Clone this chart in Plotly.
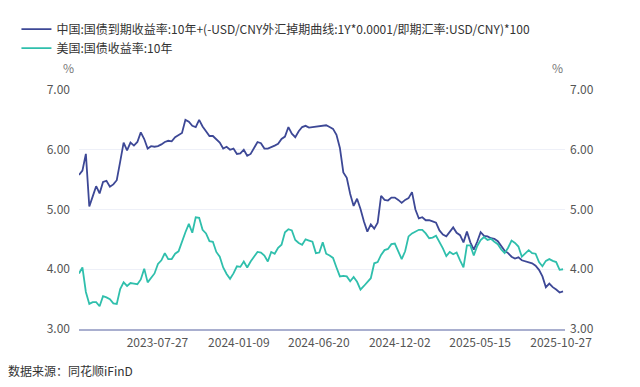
import pandas as pd
import plotly.graph_objects as go

# Weekly sampling dates (Fridays) covering the chart span
dates = pd.date_range("2023-02-17", periods=142, freq="7D")

china_adj = [
    5.58, 5.65, 5.93, 5.05, 5.22, 5.39, 5.27, 5.46, 5.48, 5.38,
    5.42, 5.49, 5.80, 6.12, 5.99, 6.12, 6.07, 6.13, 6.29, 6.18,
    6.02, 6.06, 6.05, 6.06, 6.09, 6.13, 6.15, 6.14, 6.21, 6.24,
    6.28, 6.50, 6.47, 6.40, 6.38, 6.50, 6.39, 6.31, 6.23, 6.23,
    6.17, 6.12, 6.02, 6.05, 6.00, 6.02, 5.93, 5.94, 6.00, 5.90,
    5.93, 6.02, 6.13, 6.11, 6.02, 6.02, 6.04, 6.07, 6.10, 6.18,
    6.22, 6.38, 6.27, 6.21, 6.31, 6.38, 6.40, 6.37, 6.38, 6.39,
    6.39, 6.40, 6.41, 6.38, 6.35, 6.25, 6.03, 5.62, 5.53, 5.26,
    5.06, 5.18, 5.01, 4.80, 4.63, 4.75, 4.68, 4.78, 5.23, 5.16,
    5.15, 5.20, 5.20, 5.16, 5.11, 5.16, 5.19, 5.29, 5.00, 4.85,
    4.87, 4.82, 4.82, 4.80, 4.78, 4.65, 4.58, 4.55, 4.62, 4.70,
    4.61, 4.57, 4.45, 4.63, 4.45, 4.33, 4.46, 4.62, 4.56, 4.55,
    4.52, 4.51, 4.47, 4.38, 4.31, 4.27, 4.21, 4.18, 4.20, 4.15,
    4.13, 4.11, 4.10, 4.06, 3.99, 3.88, 3.70, 3.76, 3.70, 3.66,
    3.61, 3.63,
]

us_10y = [
    3.93, 4.03, 3.62, 3.42, 3.45, 3.45, 3.38, 3.55, 3.53, 3.50,
    3.43, 3.42, 3.67, 3.78, 3.72, 3.77, 3.76, 3.75, 3.83, 4.01,
    3.78, 3.86, 3.93, 4.09, 4.15, 4.27, 4.17, 4.17, 4.26, 4.30,
    4.48, 4.62, 4.76, 4.61, 4.87, 4.86, 4.66, 4.60, 4.47, 4.46,
    4.29, 4.21, 4.03, 3.92, 3.84, 3.93, 4.05, 4.04, 4.13, 4.03,
    4.13, 4.22, 4.29, 4.28, 4.23, 4.13, 4.29, 4.26, 4.36, 4.41,
    4.62, 4.67, 4.65, 4.49, 4.44, 4.41, 4.50, 4.48, 4.46, 4.27,
    4.28, 4.45, 4.26, 4.23, 4.19, 4.03, 3.88, 3.89, 3.88, 3.80,
    3.87, 3.79, 3.66, 3.72, 3.78, 3.85, 4.10, 4.12, 4.24, 4.32,
    4.34, 4.42, 4.43, 4.29, 4.17, 4.30, 4.55, 4.60, 4.63, 4.66,
    4.66, 4.60, 4.52, 4.53, 4.56, 4.46, 4.35, 4.22, 4.29, 4.25,
    4.28, 4.15, 4.03, 4.40, 4.40, 4.23, 4.39, 4.49, 4.54, 4.49,
    4.51, 4.46, 4.42, 4.33, 4.27, 4.36, 4.48, 4.44, 4.38, 4.21,
    4.27, 4.32, 4.27, 4.26, 4.12, 4.05, 4.14, 4.17, 4.14, 4.12,
    3.99, 4.00,
]

tick_dates = ["2023-07-27", "2024-01-09", "2024-06-20", "2024-12-02", "2025-05-15", "2025-10-27"]
y_ticks = [3, 4, 5, 6, 7]

name_cn = "中国:国债到期收益率:10年+(-USD/CNY外汇掉期曲线:1Y*0.0001/即期汇率:USD/CNY)*100"
name_us = "美国:国债收益率:10年"

FONT = "Noto Sans CJK SC, Microsoft YaHei, sans-serif"
BLUE = "#3d4896"
TEAL = "#2fbfac"

fig = go.Figure()
fig.add_trace(go.Scatter(x=dates, y=china_adj, name=name_cn, mode="lines",
                         line=dict(color=BLUE, width=1.8), yaxis="y"))
fig.add_trace(go.Scatter(x=dates, y=us_10y, name=name_us, mode="lines",
                         line=dict(color=TEAL, width=1.8), yaxis="y2"))

fig.update_layout(
    width=640, height=387,
    margin=dict(l=79, r=75, t=90, b=58, autoexpand=False),
    paper_bgcolor="white", plot_bgcolor="white",
    font=dict(family=FONT, size=12, color="#555555"),
    showlegend=True,
    legend=dict(
        xref="container", yref="container",
        x=0.0257, y=0.962, xanchor="left", yanchor="top",
        orientation="h", bgcolor="rgba(0,0,0,0)",
        font=dict(family=FONT, size=12, color="#333333"),
        tracegroupgap=0,
    ),
    xaxis=dict(
        type="date",
        range=["2023-02-17", "2025-11-04"],
        tickvals=tick_dates, tickformat="%Y-%m-%d",
        showgrid=False, zeroline=False,
        showline=True, linecolor="#a9afcf", linewidth=2,
        ticks="", ticklabelstandoff=2,
        tickfont=dict(size=12, color="#555555"),
    ),
    yaxis=dict(
        range=[3, 7], tickvals=y_ticks, tickformat=".2f",
        showgrid=True, gridcolor="#eef0f8", gridwidth=1,
        zeroline=False, showline=False, ticks="",
        ticklabelstandoff=8,
        tickfont=dict(size=12, color="#555555"),
    ),
    yaxis2=dict(
        range=[3, 7], tickvals=y_ticks, tickformat=".2f",
        overlaying="y", side="right",
        showgrid=False, zeroline=False, showline=False, ticks="",
        ticklabelstandoff=4,
        tickfont=dict(size=12, color="#555555"),
    ),
    annotations=[
        dict(text="%", xref="paper", yref="paper", x=-0.0226, y=1.095,
             showarrow=False, font=dict(size=12, color="#777777"),
             xanchor="center", yanchor="middle"),
        dict(text="%", xref="paper", yref="paper", x=0.9855, y=1.095,
             showarrow=False, font=dict(size=12, color="#777777"),
             xanchor="center", yanchor="middle"),
        dict(text="数据来源：同花顺iFinD", xref="paper", yref="paper",
             x=-0.150, y=-0.174, showarrow=False, xanchor="left", yanchor="middle",
             font=dict(size=12, color="#333333")),
    ],
)

fig.write_html("out.html", config={"displayModeBar": False},
               post_script="document.body.style.margin='0px';")
